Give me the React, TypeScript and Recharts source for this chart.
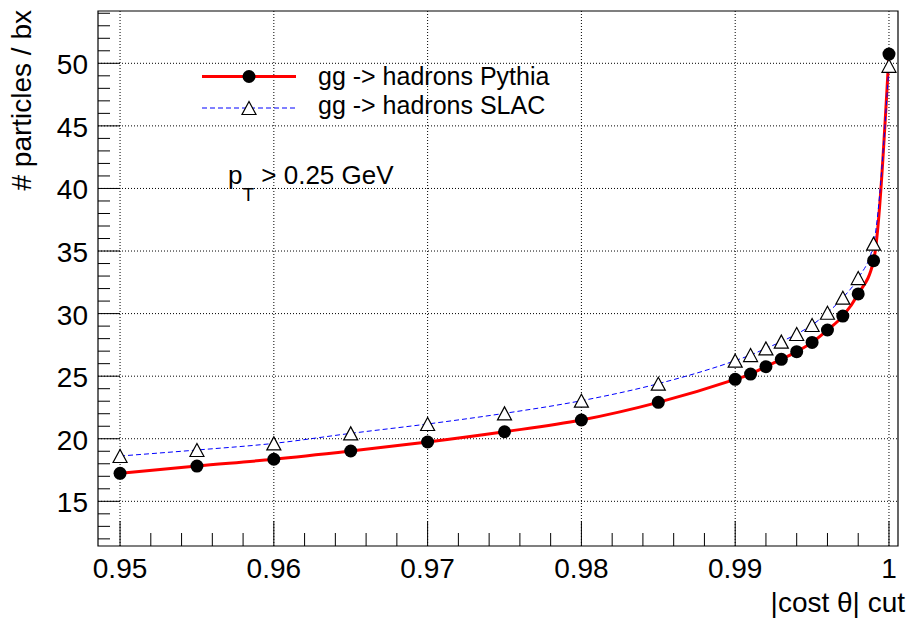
import React from 'react';
import { LineChart, Line, XAxis, YAxis, ReferenceLine, ReferenceArea } from 'recharts';

// |cos theta| cut values
const cutValues = [
  0.95, 0.955, 0.96, 0.965, 0.97, 0.975, 0.98, 0.985, 0.99, 0.991, 0.992, 0.993,
  0.994, 0.995, 0.996, 0.997, 0.998, 0.999, 1.0,
];
// gg -> hadrons Pythia
const pythiaValues = [
  17.24, 17.82, 18.36, 19.02, 19.74, 20.56, 21.5, 22.91, 24.75, 25.17, 25.76, 26.35,
  26.96, 27.7, 28.69, 29.8, 31.57, 34.23, 50.74,
];
// gg -> hadrons SLAC
const slacValues = [
  18.62, 19.1, 19.63, 20.43, 21.18, 22.03, 23.04, 24.4, 26.24, 26.69, 27.22, 27.76,
  28.37, 29.09, 30.07, 31.27, 32.84, 35.59, 49.8,
];

const xMajorTicks = [0.95, 0.96, 0.97, 0.98, 0.99, 1.0];
const yMajorTicks = [15, 20, 25, 30, 35, 40, 45, 50];
const X_DOMAIN: [number, number] = [0.948566, 1.000587];
const Y_DOMAIN: [number, number] = [11.43, 54.18];

const xAllTicks: number[] = [];
for (let i = 0; i <= 25; i++) xAllTicks.push(Math.round((0.95 + i * 0.002) * 1000) / 1000);
const yAllTicks: number[] = [];
for (let v = 12; v <= 54; v++) yAllTicks.push(v);

const data = cutValues.map((x, i) => ({ x, pythia: pythiaValues[i], slac: slacValues[i] }));

const FONT = '"Liberation Sans", Arial, Helvetica, sans-serif';
const PLOT_LEFT = 98;
const PLOT_BOTTOM = 546;

const isMajorX = (v: number) => xMajorTicks.some((m) => Math.abs(m - v) < 1e-6);
const isMajorY = (v: number) => yMajorTicks.includes(v);

function XTick(props: any) {
  const { x, payload } = props;
  const major = isMajorX(payload.value);
  return (
    <g>
      <line x1={x} x2={x} y1={PLOT_BOTTOM} y2={PLOT_BOTTOM - (major ? 25 : 13)} stroke="#000" strokeWidth={1} />
      {major && (
        <text x={x} y={578} textAnchor="middle" fontSize={28} fontFamily={FONT} fill="#000">
          {payload.value === 1 ? '1' : String(payload.value)}
        </text>
      )}
    </g>
  );
}

function YTick(props: any) {
  const { y, payload } = props;
  const major = isMajorY(payload.value);
  return (
    <g>
      <line x1={PLOT_LEFT} x2={PLOT_LEFT + (major ? 22 : 12)} y1={y} y2={y} stroke="#000" strokeWidth={1} />
      {major && (
        <text x={88} y={y + 11} textAnchor="end" fontSize={28} fontFamily={FONT} fill="#000">
          {payload.value}
        </text>
      )}
    </g>
  );
}

const CircleDot = (props: any) => {
  const { cx, cy, index } = props;
  if (cx == null || cy == null) return <g key={`c${index}`} />;
  return <circle key={`c${index}`} cx={cx} cy={cy} r={6.5} fill="#000" />;
};

const TriangleDot = (props: any) => {
  const { cx, cy, index } = props;
  if (cx == null || cy == null) return <g key={`t${index}`} />;
  const pts = `${cx},${cy - 6.5} ${cx - 7},${cy + 6.5} ${cx + 7},${cy + 6.5}`;
  return <polygon key={`t${index}`} points={pts} fill="#fff" stroke="#000" strokeWidth={1.2} />;
};

export default function App() {
  return (
    <div style={{ position: 'absolute', left: 0, top: 0, width: 908, height: 618, background: '#fff' }}>
      <LineChart width={908} height={618} data={data} margin={{ top: 11, right: 10, bottom: 0, left: 0 }}>
        <XAxis
          type="number"
          dataKey="x"
          domain={X_DOMAIN}
          allowDataOverflow
          ticks={xAllTicks}
          interval={0}
          height={72}
          axisLine={false}
          tickLine={false}
          tickSize={0}
          tick={(p: any) => <XTick {...p} />}
        />
        <YAxis
          type="number"
          domain={Y_DOMAIN}
          allowDataOverflow
          ticks={yAllTicks}
          interval={0}
          width={98}
          axisLine={false}
          tickLine={false}
          tickSize={0}
          tick={(p: any) => <YTick {...p} />}
        />
        {xMajorTicks.map((v) => (
          <ReferenceLine key={`gx${v}`} x={v} stroke="#000" strokeWidth={1} strokeDasharray="1 2" />
        ))}
        {yMajorTicks.map((v) => (
          <ReferenceLine key={`gy${v}`} y={v} stroke="#000" strokeWidth={1} strokeDasharray="1 2" />
        ))}
        <ReferenceArea
          x1={X_DOMAIN[0]}
          x2={X_DOMAIN[1]}
          y1={Y_DOMAIN[0]}
          y2={Y_DOMAIN[1]}
          fill="none"
          fillOpacity={0}
          stroke="#000"
          strokeWidth={1.2}
        />
        <Line
          type="monotone"
          dataKey="pythia"
          stroke="#ff0000"
          strokeWidth={3}
          dot={CircleDot}
          activeDot={false}
          isAnimationActive={false}
        />
        <Line
          type="monotone"
          dataKey="slac"
          stroke="#0000ff"
          strokeWidth={1}
          strokeDasharray="5 3"
          dot={TriangleDot}
          activeDot={false}
          isAnimationActive={false}
        />
      </LineChart>
      <svg
        width={908}
        height={618}
        style={{ position: 'absolute', left: 0, top: 0, pointerEvents: 'none' }}
        fontFamily={FONT}
      >
        {/* legend */}
        <line x1={202} x2={296} y1={76.5} y2={76.5} stroke="#ff0000" strokeWidth={3} />
        <circle cx={249} cy={76.5} r={6.5} fill="#000" />
        <text x={318} y={85} fontSize={25} fill="#000">gg -&gt; hadrons Pythia</text>
        <line x1={202} x2={296} y1={108} y2={108} stroke="#0000ff" strokeWidth={1} strokeDasharray="5 3" />
        <polygon points="249,101.5 242,114.5 256,114.5" fill="#fff" stroke="#000" strokeWidth={1.2} />
        <text x={318} y={114} fontSize={25} fill="#000">gg -&gt; hadrons SLAC</text>
        {/* annotation */}
        <text x={228} y={184} fontSize={26} fill="#000">
          p<tspan fontSize={19} dy={17}>T</tspan>
          <tspan dy={-17} fontSize={26}> &gt; 0.25 GeV</tspan>
        </text>
        {/* axis titles */}
        <text x={905} y={612} textAnchor="end" fontSize={28} fill="#000">|cost θ| cut</text>
        <text
          transform="translate(31,10) rotate(-90)"
          textAnchor="end"
          fontSize={28}
          fill="#000"
        >
          # particles / bx
        </text>
      </svg>
    </div>
  );
}
